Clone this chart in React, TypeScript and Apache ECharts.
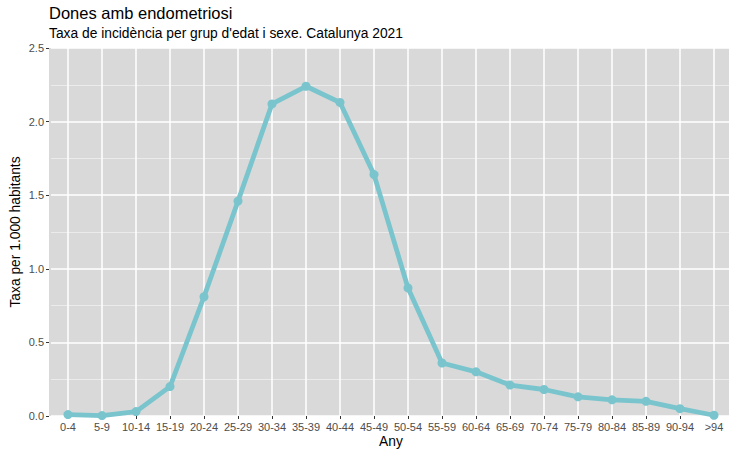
import React, { useEffect, useRef } from "react";
import * as echarts from "echarts";

const categories = [
  "0-4", "5-9", "10-14", "15-19", "20-24", "25-29", "30-34", "35-39", "40-44", "45-49",
  "50-54", "55-59", "60-64", "65-69", "70-74", "75-79", "80-84", "85-89", "90-94", ">94",
];
const rates = [
  0.01, 0.003, 0.03, 0.2, 0.81, 1.46, 2.12, 2.24, 2.13, 1.64,
  0.87, 0.36, 0.3, 0.21, 0.18, 0.13, 0.11, 0.1, 0.05, 0.005,
];
const yTicks = { min: 0, max: 2.5, interval: 0.5 };

const titleText = "Dones amb endometriosi";
const subtitleText = "Taxa de incidència per grup d'edat i sexe. Catalunya 2021";
const xName = "Any";
const yName = "Taxa per 1.000 habitants";

const FONT = "'Liberation Sans', Arial, sans-serif";

export default function App() {
  const ref = useRef<HTMLDivElement>(null);
  useEffect(() => {
    if (!ref.current) return;
    const chart = echarts.init(ref.current, null, { renderer: "svg" });
    chart.setOption({
      animation: false,
      textStyle: { fontFamily: FONT },
      title: [
        {
          text: titleText,
          left: 49,
          top: 4,
          padding: 0,
          textStyle: { fontSize: 16.5, fontWeight: "normal", color: "#000", fontFamily: FONT },
        },
        {
          text: subtitleText,
          left: 49,
          top: 26,
          padding: 0,
          textStyle: { fontSize: 13.8, fontWeight: "normal", color: "#000", fontFamily: FONT },
        },
      ],
      graphic: [
        { type: "rect", shape: { x: 49, y: 48, width: 2, height: 368 }, style: { fill: "#D9D9D9" }, silent: true },
      ],
      grid: {
        left: 51,
        top: 48,
        width: 680,
        height: 368,
        show: true,
        backgroundColor: "#D9D9D9",
        borderWidth: 0,
        containLabel: false,
        outerBoundsMode: "none",
      },
      xAxis: {
        type: "category",
        data: categories,
        boundaryGap: true,
        axisLine: { show: false },
        axisTick: { show: true, alignWithLabel: true, length: 3, lineStyle: { color: "#333333" } },
        axisLabel: { interval: 0, fontSize: 11, color: "#4D4D4D", margin: 5, fontFamily: FONT },
        splitLine: { show: true, alignWithLabel: true, lineStyle: { color: "#FFFFFF", width: 1.5 } },
        name: xName,
        nameLocation: "middle",
        nameGap: 18,
        nameMoveOverlap: false,
        nameTextStyle: { fontSize: 13.8, color: "#000", fontFamily: FONT },
      },
      yAxis: {
        type: "value",
        min: yTicks.min,
        max: yTicks.max,
        interval: yTicks.interval,
        offset: 2,
        axisLine: { show: false },
        axisTick: { show: true, length: 3, lineStyle: { color: "#333333" } },
        axisLabel: {
          fontSize: 11,
          color: "#4D4D4D",
          margin: 5,
          fontFamily: FONT,
          formatter: (v: number) => v.toFixed(1),
        },
        splitLine: { show: true, lineStyle: { color: "#FFFFFF", width: 1.5 } },
        minorTick: { show: false, splitNumber: 2 },
        minorSplitLine: { show: true, lineStyle: { color: "#F0F0F0", width: 0.8 } },
        name: yName,
        nameLocation: "middle",
        nameGap: 27,
        nameMoveOverlap: false,
        nameRotate: 90,
        nameTextStyle: { fontSize: 13.8, color: "#000", fontFamily: FONT },
      },
      series: [
        {
          type: "line",
          data: rates,
          symbol: "circle",
          symbolSize: 9,
          showSymbol: true,
          lineStyle: { color: "#7AC5CD", width: 4.8 },
          itemStyle: { color: "#7AC5CD" },
        },
      ],
    });
    return () => chart.dispose();
  }, []);
  return <div ref={ref} style={{ width: 729, height: 451, position: "absolute", left: 0, top: 0 }} />;
}
